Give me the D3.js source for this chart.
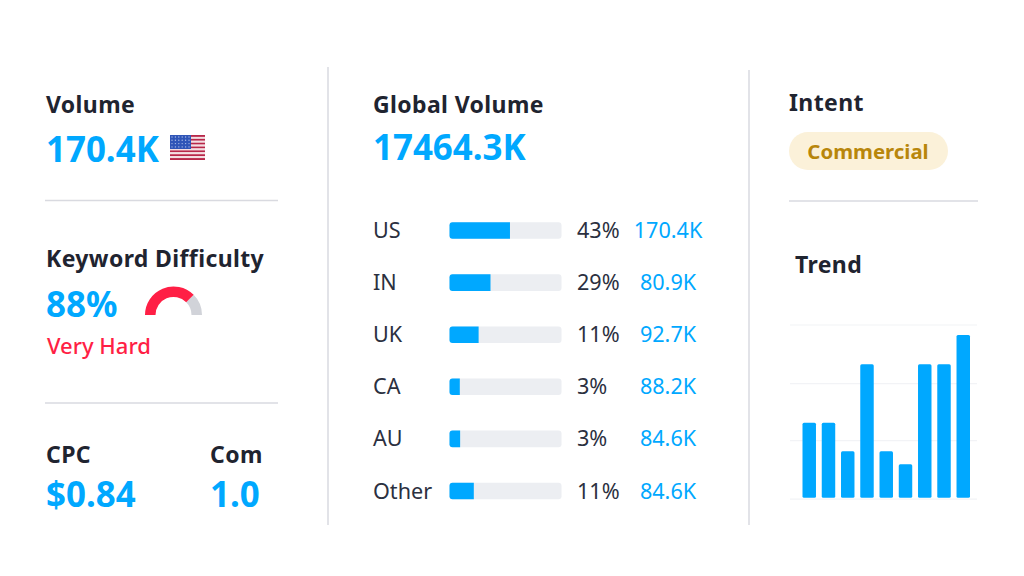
<!DOCTYPE html>
<html><head><meta charset="utf-8">
<script src="https://cdn.jsdelivr.net/npm/d3@7"></script>
<style>
html,body{margin:0;padding:0;background:#fff}
text{font-family:"Noto Sans",sans-serif}
</style></head><body><svg id="c" width="1024" height="576"></svg>
<script>
const countries = ["US","IN","UK","CA","AU","Other"];
const shareLabels = ["43%","29%","11%","3%","3%","11%"];
const volumeLabels = ["170.4K","80.9K","92.7K","88.2K","84.6K","84.6K"];
const barFill = [54,36.6,26,9.2,9.5,21.7];
const trendValues = [46,46,28.5,82,28.5,20.5,82,82,100];
const trendTicks = [0,36,71,107];
const gaugeFill = 75;

const BLUE="#00a8ff",RED="#ff1f45",DARK="#1f2430",RULE="#d9dae0";
const svg=d3.select("#c");
svg.append("rect").attr("width",1024).attr("height",576).attr("fill","#fff");
function t(x,y,s,size,weight,fill,anchor){
  return svg.append("text").attr("x",x).attr("y",y).text(s).attr("font-size",size)
    .attr("font-weight",weight).attr("fill",fill).attr("text-anchor",anchor||"start");
}
function head(x,y,s){return t(x,y,s,23,700,DARK).attr("letter-spacing",.38);}
function rule(x1,y1,x2,y2){svg.append("line").attr("x1",x1).attr("y1",y1).attr("x2",x2).attr("y2",y2).attr("stroke",RULE).attr("stroke-width",1.5);}

rule(45,200.5,278,200.5);rule(45,403,278,403);rule(789,201,978,201);
rule(328,67,328,525);rule(749,70,749,525);

// left column
head(46,113,"Volume");
t(46,162,"170.4K",34.9,700,BLUE);
head(46,267,"Keyword Difficulty");
t(46,317,"88%",34.9,700,BLUE);
t(47,354,"Very Hard",22,500,RED);
head(46,463,"CPC");
t(46,507,"$0.84",34.9,700,BLUE);
head(210,463,"Com");
t(210,507,"1.0",34.9,700,BLUE);

// flag
const flag=svg.append("g").attr("transform","translate(170,135)");
const stripeY=d3.scaleBand().domain(d3.range(13)).range([0,25]);
flag.selectAll("rect.s").data(d3.range(13)).join("rect").attr("class","s")
  .attr("x",0).attr("width",35).attr("y",d=>stripeY(d)).attr("height",stripeY.bandwidth())
  .attr("fill",d=>d%2?"#f4dfe3":"#b8284a");
flag.append("rect").attr("width",21).attr("height",14).attr("fill","#2f55b8");
flag.selectAll("circle").data(d3.cross(d3.range(6),d3.range(4))).join("circle")
  .attr("cx",d=>2+d[0]*3.4).attr("cy",d=>2+d[1]*3.3).attr("r",.7).attr("fill","#a9bbe6");

// gauge
const gaugeAngle=d3.scaleLinear().domain([0,100]).range([-Math.PI/2,Math.PI/2]);
const gaugeArc=d3.arc().innerRadius(18).outerRadius(28.5);
const gauge=svg.append("g").attr("transform","translate(173.5,315)");
gauge.append("path").attr("d",gaugeArc({startAngle:gaugeAngle(gaugeFill),endAngle:gaugeAngle(100)})).attr("fill","#d1d3d9");
gauge.append("path").attr("d",gaugeArc({startAngle:gaugeAngle(0),endAngle:gaugeAngle(gaugeFill)})).attr("fill",RED);

// middle column
head(373,113,"Global Volume");
t(373,160,"17464.3K",34.9,700,BLUE);
const rowY=d3.scalePoint().domain(countries).range([230.5,491]);
const barX=d3.scaleLinear().domain([0,100]).range([449.5,561.5]);
countries.forEach((c,i)=>{
  const y=rowY(c);
  t(373,y+7.5,c,21.6,400,"#2b3040");
  svg.append("rect").attr("x",barX(0)).attr("y",y-8.3).attr("width",barX(100)-barX(0)).attr("height",16.6).attr("rx",3).attr("fill","#eceef2");
  svg.append("path").attr("fill",BLUE).attr("d",()=>{
    const x0=barX(0),x1=barX(barFill[i]),a=y-8.3,b=y+8.3,r=3;
    return `M${x0+r},${a}H${x1}V${b}H${x0+r}Q${x0},${b} ${x0},${b-r}V${a+r}Q${x0},${a} ${x0+r},${a}Z`;
  });
  t(577,y+7.5,shareLabels[i],21.6,400,"#2b3040");
  t(668,y+7.5,volumeLabels[i],21.6,400,BLUE,"middle");
});

// right column
head(789,111,"Intent");
svg.append("rect").attr("x",789).attr("y",132).attr("width",159).attr("height",38).attr("rx",19).attr("fill","#fbf1d9");
t(868,159,"Commercial",20.4,700,"#b8860b","middle");
head(795,273,"Trend");

const tx=d3.scaleBand().domain(d3.range(trendValues.length)).range([802.5,970]).paddingInner(.3).paddingOuter(0);
const ty=d3.scaleLinear().domain([0,107]).range([497.7,323.5]);
const ax=d3.axisLeft(ty).tickValues(trendTicks).tickSize(-187).tickFormat("");
const ag=svg.append("g").attr("transform","translate(790,1)").call(ax);
ag.select(".domain").remove();
ag.selectAll(".tick line").attr("stroke","#f2f3f6").attr("stroke-width",1.2);
svg.selectAll("rect.tb").data(trendValues).join("rect").attr("class","tb")
  .attr("x",(d,i)=>tx(i)).attr("width",tx.bandwidth()).attr("y",d=>ty(d)).attr("height",d=>ty(0)-ty(d)).attr("rx",1.5).attr("fill",BLUE);
</script></body></html>
